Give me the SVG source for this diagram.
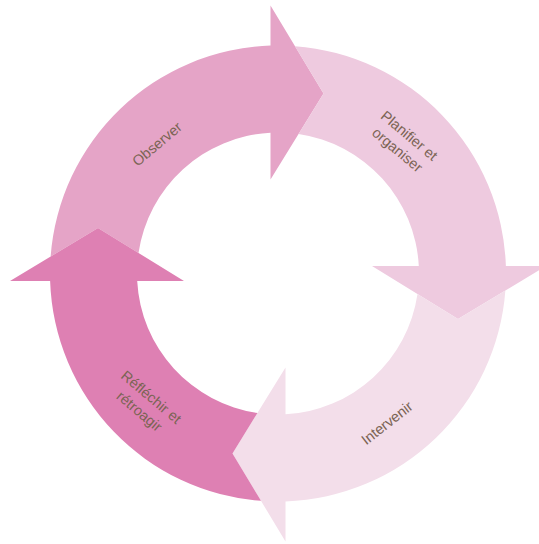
<svg xmlns="http://www.w3.org/2000/svg" xmlns:xlink="http://www.w3.org/1999/xlink" width="539" height="544" viewBox="0 0 539 544">
  <style>
    .lbl { font-family: "Liberation Sans", Arial, sans-serif; font-size: 14.5px; fill: #7B6454; text-anchor: middle; }
  </style>
  <defs>
    <path id="arrow" d="M -227.37 -16.97 A 228 228 0 0 1 -7.5 -227.88 L -7.5 -268 L 45.5 -180 L -7.5 -94 L -7.5 -140.8 A 141 141 0 0 0 -139.5 -20.54 L -180 -45.5 Z"/>
  </defs>
  <g id="observer">
    <use xlink:href="#arrow" href="#arrow" transform="translate(278 273.5)" fill="#E5A4C7"/>
    <text class="lbl" transform="translate(157 144) rotate(-40)" y="5">Observer</text>
  </g>
  <g id="planifier">
    <use xlink:href="#arrow" href="#arrow" transform="translate(278 273.5) rotate(90)" fill="#EECADF"/>
    <text class="lbl" transform="translate(403.5 142.5) rotate(40)"><tspan x="0" y="-4">Planifier et</tspan><tspan x="0" y="14.5">organiser</tspan></text>
  </g>
  <g id="intervenir">
    <use xlink:href="#arrow" href="#arrow" transform="translate(278 273.5) rotate(180)" fill="#F3DEEA"/>
    <text class="lbl" transform="translate(387 423) rotate(-38)" y="5">Intervenir</text>
  </g>
  <g id="reflechir">
    <use xlink:href="#arrow" href="#arrow" transform="translate(278 273.5) rotate(270)" fill="#DE80B3"/>
    <text class="lbl" transform="translate(145.5 404) rotate(40)"><tspan x="0" y="-4">Réfléchir et</tspan><tspan x="0" y="14.5">rétroagir</tspan></text>
  </g>
  <g id="connectors"/>
</svg>
